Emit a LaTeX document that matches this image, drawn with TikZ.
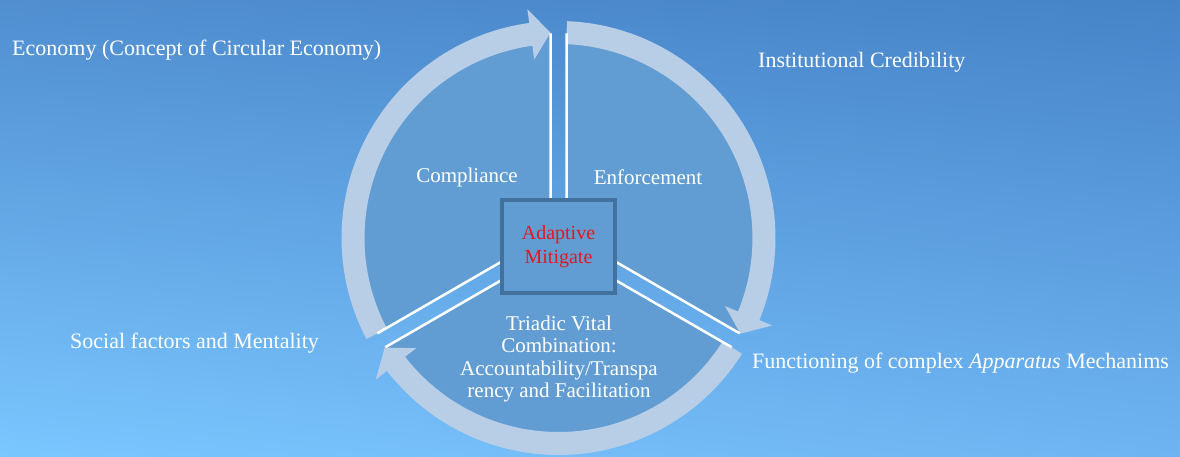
\documentclass[tikz,border=0pt]{standalone}
\usepackage{fontspec}
\setmainfont{Liberation Serif}
\usetikzlibrary{shadings}

\definecolor{pie}{RGB}{97,157,210}
\definecolor{ring}{RGB}{184,205,230}
\definecolor{boxline}{RGB}{65,113,156}
\definecolor{mitred}{RGB}{228,22,32}
\definecolor{bgtl}{RGB}{80,142,208}
\definecolor{bgtr}{RGB}{70,132,200}
\definecolor{bgbl}{RGB}{122,198,255}
\definecolor{bgbr}{RGB}{110,180,242}

% curved arrow on the ring: tail angle, head base angle, tip angle
\newcommand{\ringarrow}[3]{%
  \fill[ring] (#1:194) arc[start angle=#1, end angle=#2, radius=194]
    -- (#2:180) -- (#3:205.5) -- (#2:231) -- (#2:217)
    arc[start angle=#2, end angle=#1, radius=217] -- cycle;}

\begin{document}
\begin{tikzpicture}[x=1pt, y=1pt,
    main/.style = {text=white, inner sep=0pt, font=\fontsize{21}{22.5}\selectfont},
    side/.style = {text=white, inner sep=0pt, anchor=west, font=\fontsize{22}{26}\selectfont},
    edge/.style = {draw=white, line width=2.5pt}]
  \useasboundingbox (0,0) rectangle (1180,457);
  \shade[upper left=bgtl, upper right=bgtr, lower left=bgbl, lower right=bgbr]
    (0,0) rectangle (1180,457);

  \begin{scope}[shift={(558.5,219)}]
    % three sectors, pushed apart a little
    \foreach \a in {90,210,330}
      \fill[pie, shift={(\a+60:9.24)}] (0,0) -- (\a:200)
        arc[start angle=\a, end angle=\a+120, radius=200] -- cycle;
    \ringarrow{207.75}{97.75}{92.25}
    \ringarrow{87.75}{-22.25}{-27.75}
    \ringarrow{327.75}{217.75}{212.25}
    \foreach \a in {90,210,330}
      \draw[edge, shift={(\a+60:9.24)}] (\a:200) -- (0,0) -- (\a+120:200);
  \end{scope}

  \node[draw=boxline, line width=4pt, fill=pie, minimum width=113pt,
    minimum height=93pt, align=center, text=mitred,
    font=\fontsize{20}{24}\selectfont] (adapt) at (558.5,210.5) {Adaptive\\Mitigate};

  \node[main] (comp) at (467,280) {Compliance};
  \node[main] (enf) at (648,280) {Enforcement};
  \node[main, align=center] (triad) at (559,98)
    {Triadic Vital\\Combination:\\Accountability/Transpa\\rency and Facilitation};

  \node[side] (econ) at (12,407) {Economy (Concept of Circular Economy)};
  \node[side] (inst) at (758,395) {Institutional Credibility};
  \node[side] (soc) at (70,114) {Social factors and Mentality};
  \node[side] (func) at (752,94) {Functioning of complex \emph{Apparatus} Mechanims};
\end{tikzpicture}
\end{document}
